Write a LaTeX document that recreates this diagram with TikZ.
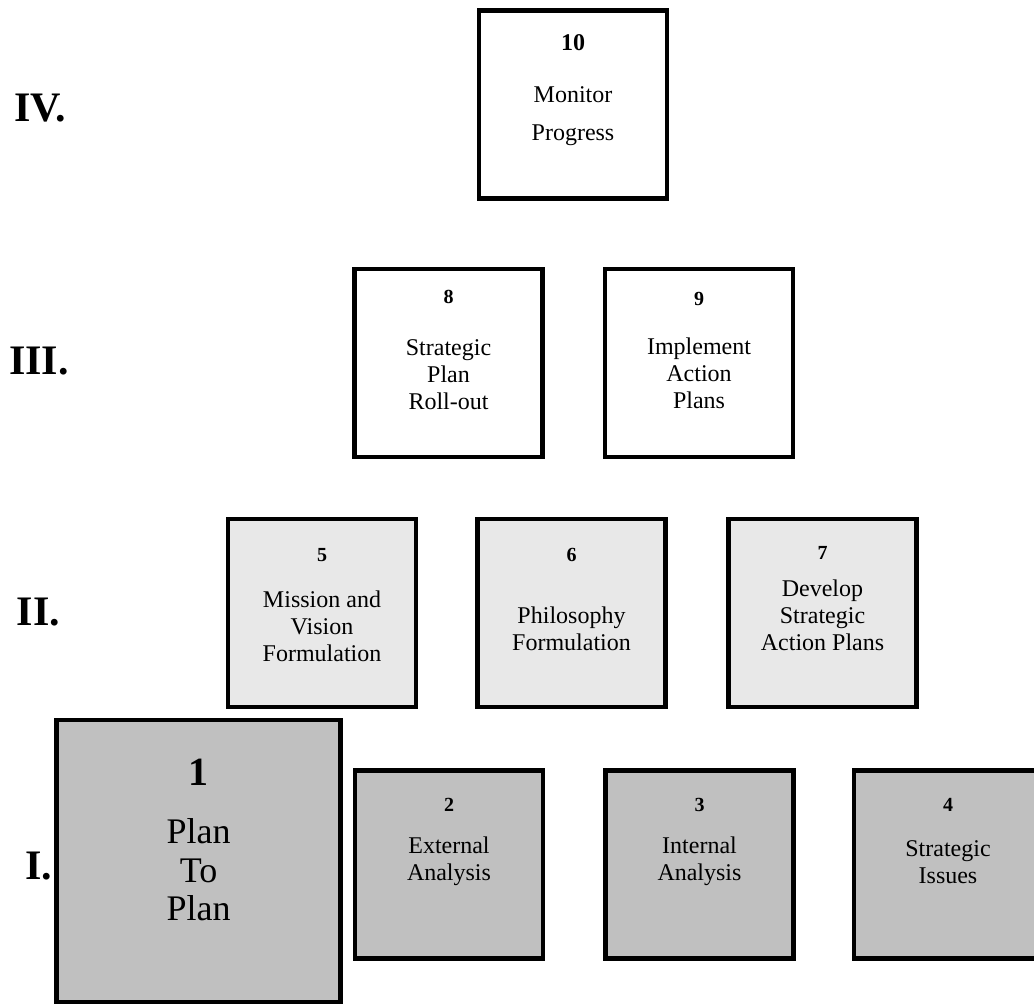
\documentclass[tikz,border=0pt]{standalone}
\usepackage{fontspec}
\setmainfont{Liberation Serif}
\definecolor{levelI}{RGB}{192,192,192}
\definecolor{levelII}{RGB}{232,232,232}
\begin{document}
\begin{tikzpicture}[x=0.5pt,y=-0.5pt,
  box/.style={draw=black,line width=2.3pt,minimum width=94pt,minimum height=94pt,inner sep=0pt},
  bigbox/.style={box,minimum width=142pt,minimum height=141pt},
  num/.style={font=\fontsize{10}{12}\selectfont\bfseries,inner sep=0pt},
  txt/.style={font=\fontsize{12}{13.5}\selectfont,align=center,inner sep=0pt},
  level/.style={font=\fontsize{21}{24}\selectfont\bfseries,inner sep=0pt}]
\useasboundingbox (0,0) rectangle (1034,1006);
\clip (0,0) rectangle (1034,1006);
% level IV
\node[box,fill=white] (b10) at (573,104.5) {};
\node[num,font=\fontsize{12}{14}\selectfont\bfseries] (b10n) at (573,43) {10};
\node[txt,font=\fontsize{12}{19}\selectfont] (b10t) at (573,116) {Monitor\\Progress};
% level III
\node[box,fill=white] (b8) at (448.5,363) {};
\node[num] (b8n) at (448.5,297) {8};
\node[txt] (b8t) at (448.5,375) {Strategic\\Plan\\Roll-out};
\node[box,fill=white] (b9) at (699,363) {};
\node[num] (b9n) at (699,299) {9};
\node[txt] (b9t) at (699,373) {Implement\\Action\\Plans};
% level II
\node[box,fill=levelII] (b5) at (322,613) {};
\node[num] (b5n) at (322,555) {5};
\node[txt] (b5t) at (322,626) {Mission and\\Vision\\Formulation};
\node[box,fill=levelII] (b6) at (571.5,613) {};
\node[num] (b6n) at (571.5,555) {6};
\node[txt] (b6t) at (571.5,629) {Philosophy\\Formulation};
\node[box,fill=levelII] (b7) at (822.5,613) {};
\node[num] (b7n) at (822.5,553) {7};
\node[txt] (b7t) at (822.5,615.5) {Develop\\Strategic\\Action Plans};
% level I
\node[bigbox,fill=levelI] (b1) at (198.5,861) {};
\node[num,font=\fontsize{20}{22}\selectfont\bfseries] (b1n) at (198.5,772) {1};
\node[txt,font=\fontsize{18}{19.3}\selectfont] (b1t) at (198.5,870) {Plan\\To\\Plan};
\node[box,fill=levelI] (b2) at (449,864.5) {};
\node[num] (b2n) at (449,805) {2};
\node[txt] (b2t) at (449,861.5) {External\\Analysis};
\node[box,fill=levelI] (b3) at (699.5,864.5) {};
\node[num] (b3n) at (699.5,805) {3};
\node[txt] (b3t) at (699.5,861.5) {Internal\\Analysis};
\node[box,fill=levelI] (b4) at (948,864.5) {};
\node[num] (b4n) at (948,805) {4};
\node[txt] (b4t) at (948,862.5) {Strategic\\Issues};
% level labels
\node[level] (lIV) at (40,108) {IV.};
\node[level] (lIII) at (39,361) {III.};
\node[level] (lII) at (38.5,612) {II.};
\node[level] (lI) at (39,866) {I.};
\end{tikzpicture}
\end{document}
